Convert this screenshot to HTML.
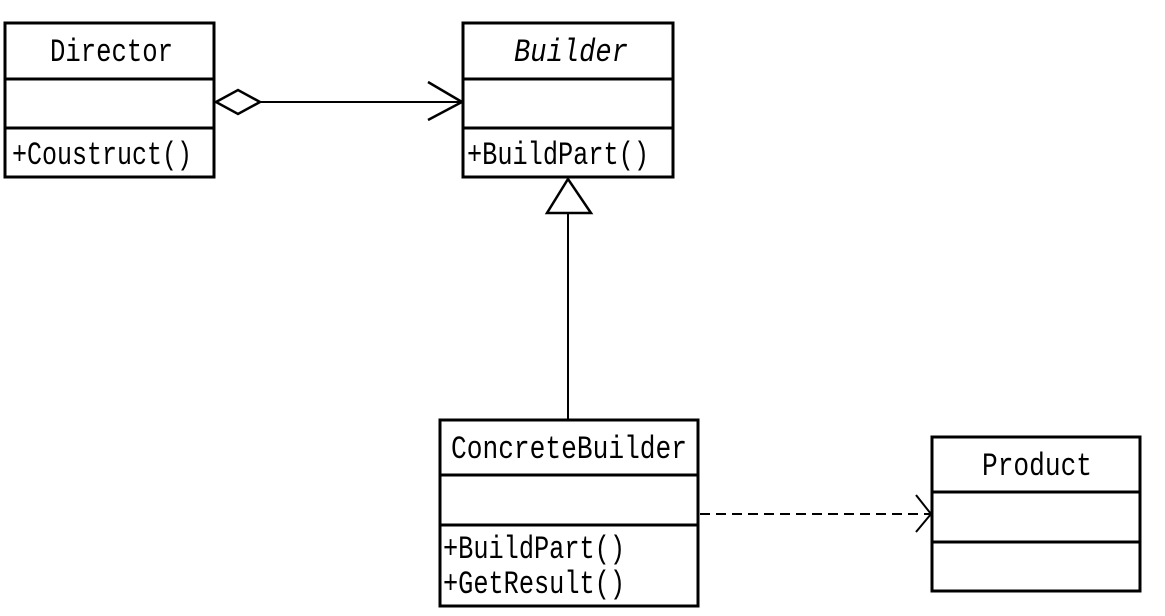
<!DOCTYPE html>
<html><head><meta charset="utf-8"><style>
html,body{margin:0;padding:0;background:#fff;width:1165px;height:616px;overflow:hidden}
text{font-family:"Liberation Mono","Noto Sans CJK SC",monospace;font-size:32px;fill:#000;font-weight:normal}
</style></head><body>
<svg width="1165" height="616" viewBox="0 0 1165 616" xmlns="http://www.w3.org/2000/svg">
<g fill="#fff" stroke="#000" stroke-width="3">
<rect x="5" y="23" width="209" height="154"/>
<line x1="5" y1="79" x2="214" y2="79"/><line x1="5" y1="128" x2="214" y2="128"/>
<rect x="463" y="23" width="210" height="154"/>
<line x1="463" y1="79" x2="673" y2="79"/><line x1="463" y1="128" x2="673" y2="128"/>
<rect x="440" y="420" width="258" height="186"/>
<line x1="440" y1="475" x2="698" y2="475"/><line x1="440" y1="525" x2="698" y2="525"/>
<rect x="932" y="437" width="208" height="154"/>
<line x1="932" y1="492" x2="1140" y2="492"/><line x1="932" y1="542" x2="1140" y2="542"/>
</g>
<g stroke="#000" stroke-width="2" fill="none">
<line x1="260" y1="102" x2="462" y2="102"/>
<polygon points="216,102 238,90 260,102 238,114" fill="#fff" stroke-width="2.5"/>
<polyline points="428,82 462,102 428,120" stroke-width="2.5"/>
<line x1="568" y1="213" x2="568" y2="420"/>
<polygon points="568,179 547,213 591,213" fill="#fff" stroke-width="2.5"/>
<line x1="700" y1="514" x2="930" y2="514" stroke-dasharray="10,6"/>
<polyline points="916,495 931,514 916,532"/>
</g>
<text x="50" y="61" textLength="123" lengthAdjust="spacingAndGlyphs">Director</text>
<text x="12" y="164" textLength="180" lengthAdjust="spacingAndGlyphs">+Coustruct()</text>
<text x="514" y="61" font-style="italic" textLength="114" lengthAdjust="spacingAndGlyphs">Builder</text>
<text x="467" y="164" textLength="182" lengthAdjust="spacingAndGlyphs">+BuildPart()</text>
<text x="451" y="458" textLength="236" lengthAdjust="spacingAndGlyphs">ConcreteBuilder</text>
<text x="443" y="558" textLength="182" lengthAdjust="spacingAndGlyphs">+BuildPart()</text>
<text x="443" y="593" textLength="182" lengthAdjust="spacingAndGlyphs">+GetResult()</text>
<text x="982" y="475" textLength="110" lengthAdjust="spacingAndGlyphs">Product</text>
</svg>
</body></html>
